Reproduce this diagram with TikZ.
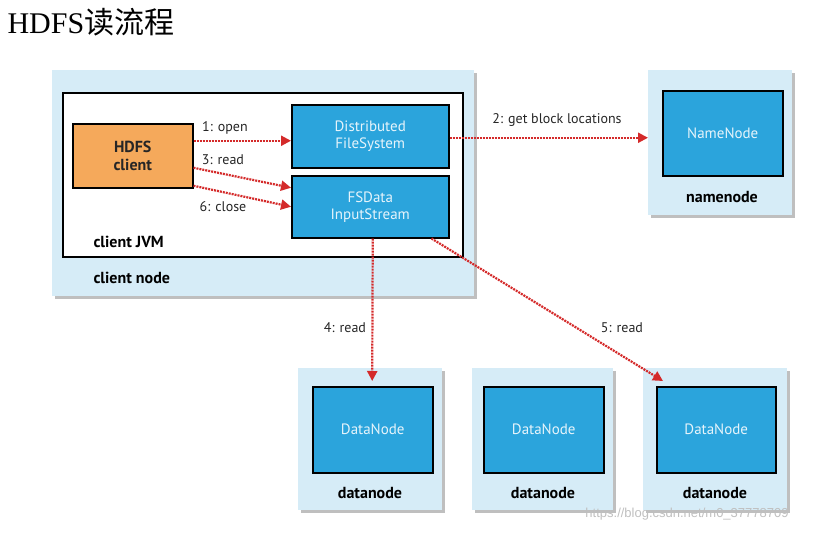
\documentclass[tikz,border=0pt]{standalone}
\usepackage{fontspec}
\setmainfont{PT Sans}
\newfontfamily\titlefont{Liberation Serif}
\newfontfamily\cjk{Noto Sans CJK SC}
\newfontfamily\markfont{Liberation Sans}
\usetikzlibrary{arrows.meta,shadows}

\definecolor{hostbg}{HTML}{D6ECF7}
\definecolor{procblue}{HTML}{2BA4DC}
\definecolor{proctext}{HTML}{E6F4FB}
\definecolor{clientorange}{HTML}{F5A95B}
\definecolor{arrowred}{HTML}{D42A2A}

\tikzset{
    hostbox/.style={fill=hostbg, draw=none, anchor=north west, inner sep=0pt,
        drop shadow={shadow xshift=2.5pt, shadow yshift=-2.5pt, opacity=0.5}},
    procbox/.style={fill=procblue, draw=black, line width=1.5pt, anchor=north west,
        text=proctext, align=center, font=\fontsize{15}{17}\selectfont},
    hostlabel/.style={font=\bfseries\fontsize{16}{18}\selectfont},
    readarrow/.style={-{Triangle[length=10pt,width=10pt]}, arrowred, line width=2.2pt,
        dash pattern=on 2pt off 1pt},
    steplabel/.style={text=black!85, font=\fontsize{14}{16}\selectfont}
}

\begin{document}
\begin{tikzpicture}[x=1pt, y=-1pt]
        % Setup the structure
        \useasboundingbox (0,0) rectangle (822,533);
        \node[anchor=west] (title) at (4,22) {\fontsize{30}{34}\selectfont\titlefont HDFS\cjk 读流程};

        % Client side
        \node[hostbox, minimum width=422pt, minimum height=226pt] (clientnode) at (52,70) {};
        \node[draw=black, fill=white, line width=1.5pt, anchor=north west,
            minimum width=400pt, minimum height=164pt] (clientjvm) at (62,92) {};
        \node[procbox, fill=clientorange, text=black!85, font=\bfseries\fontsize{16}{18}\selectfont,
            minimum width=120pt, minimum height=64pt] (hdfsclient) at (72,123) {HDFS\\client};
        \node[procbox, minimum width=157pt, minimum height=63pt] (dfs) at (291,104) {Distributed\\FileSystem};
        \node[procbox, minimum width=157pt, minimum height=62pt] (fsdis) at (291,175) {FSData\\InputStream};
        \node[hostlabel, anchor=west] (jvmlabel) at (90,242) {client JVM};
        \node[hostlabel, anchor=west] (clientlabel) at (90,278) {client node};

        % Namenode
        \node[hostbox, minimum width=144pt, minimum height=145pt] (namenode) at (648,70) {};
        \node[procbox, minimum width=120pt, minimum height=85pt] (nn) at (662,90) {NameNode};
        \node[hostlabel] (nnlabel) at (722,197) {namenode};

        % Datanodes
        \node[hostbox, minimum width=144pt, minimum height=142pt] (dnhostA) at (298,368) {};
        \node[procbox, minimum width=120pt, minimum height=86pt] (dnA) at (312,386) {DataNode};
        \node[hostlabel] (dnlabelA) at (370,493) {datanode};

        \node[hostbox, minimum width=141pt, minimum height=142pt] (dnhostB) at (472,368) {};
        \node[procbox, minimum width=120pt, minimum height=86pt] (dnB) at (483,386) {DataNode};
        \node[hostlabel] (dnlabelB) at (543,493) {datanode};

        \node[hostbox, minimum width=144pt, minimum height=142pt] (dnhostC) at (643,368) {};
        \node[procbox, minimum width=119pt, minimum height=86pt] (dnC) at (656,386) {DataNode};
        \node[hostlabel] (dnlabelC) at (715,493) {datanode};

        % Read steps
        \draw[readarrow] ([yshift=15pt]hdfsclient.east) -- ([yshift=15pt]hdfsclient.east -| dfs.west);
        \node[steplabel] (openlabel) at (225,128) {1: open};

        \draw[readarrow] ([yshift=-1.5pt]dfs.east) -- ([yshift=-1.5pt]dfs.east -| namenode.west);
        \node[steplabel] (locslabel) at (557,120) {2: get block locations};

        \draw[readarrow] ([yshift=-12pt]hdfsclient.east) -- ([yshift=19pt]fsdis.west);
        \node[steplabel] (readlabel) at (223,160) {3: read};

        \draw[readarrow] ([xshift=2.5pt]fsdis.south) -- ([xshift=2pt,yshift=-13pt]dnhostA.north);
        \node[steplabel] (readAlabel) at (345,328) {4: read};

        \draw[readarrow] ([xshift=-18pt]fsdis.south east) -- ([xshift=20pt,yshift=-13pt]dnhostC.north west);
        \node[steplabel] (readClabel) at (622,328) {5: read};

        \draw[readarrow] ([yshift=-30pt]hdfsclient.east) -- (fsdis.west);
        \node[steplabel] (closelabel) at (223,207) {6: close};

        \node[text=black!25, font=\markfont\fontsize{13}{15}\selectfont] (mark) at (687,514) {https://blog.csdn.net/m0\_37778709};
\end{tikzpicture}
\end{document}
